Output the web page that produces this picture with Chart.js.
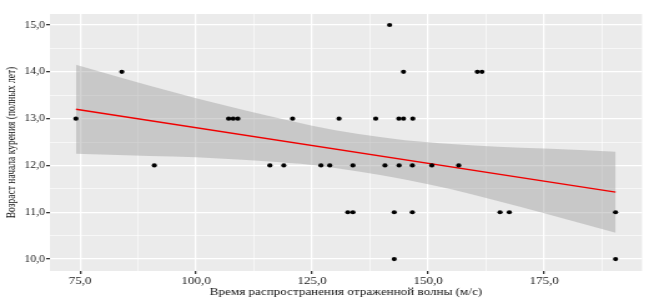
<!DOCTYPE html>
<html><head><meta charset="utf-8">
<script src="https://cdn.jsdelivr.net/npm/chart.js@4.4.1/dist/chart.umd.min.js"></script>
<style>html,body{margin:0;padding:0;background:#fff;overflow:hidden}</style>
</head><body>
<canvas id="c" width="520" height="304" style="display:block;width:649px;height:304px"></canvas>
<script>
// Observed points
const waveTime   = [74.1, 84, 91, 107, 108, 109, 115.9, 118.9, 120.8, 126.9, 128.8, 130.8, 132.7, 133.8, 133.8, 138.7, 140.7, 141.7, 142.7, 142.7, 143.7, 143.75, 144.7, 144.7, 146.6, 146.6, 146.7, 150.8, 156.6, 160.6, 161.6, 165.5, 167.5, 190.4, 190.4];
const smokingAge = [13, 14, 12, 13, 13, 13, 12, 12, 13, 12, 12, 13, 11, 11, 12, 13, 12, 15, 11, 10, 13, 12, 13, 14, 12, 11, 13, 12, 12, 14, 14, 11, 11, 11, 10];
// Fitted line (end points)
const fitX = [74.1, 190.4];
const fitY = [13.2, 11.43];
// Confidence band
const bandX     = [74.1, 85, 95, 105, 115, 125, 135, 145, 155, 165, 175, 190.4];
const bandUpper = [14.15, 13.84, 13.57, 13.31, 13.07, 12.85, 12.67, 12.54, 12.46, 12.40, 12.36, 12.29];
const bandLower = [12.25, 12.22, 12.19, 12.15, 12.09, 12.01, 11.87, 11.70, 11.49, 11.24, 10.98, 10.56];
// Axis ticks
const xMajorTicks = [75, 100, 125, 150, 175];
const xMinorTicks = [87.5, 112.5, 137.5, 162.5, 187.5];
const xTickLabels = ['75,0', '100,0', '125,0', '150,0', '175,0'];
const yMajorTicks = [10, 11, 12, 13, 14, 15];
const yMinorTicks = [10.5, 11.5, 12.5, 13.5, 14.5];
const yTickLabels = ['10,0', '11,0', '12,0', '13,0', '14,0', '15,0'];
const xTitle = 'Время распространения отраженной волны (м/с)';
const yTitle = 'Возраст начала курения (полных лет)';

const pts = (xs, ys) => xs.map((x, i) => ({x: x, y: ys[i]}));

const panelBg = {
  id: 'panelBg',
  beforeDraw(chart) {
    const {ctx, chartArea: a} = chart;
    ctx.save();
    ctx.fillStyle = '#EBEBEB';
    ctx.fillRect(a.left, a.top, a.right - a.left, a.bottom - a.top);
    ctx.restore();
  }
};

function axisOpts(major, minor, labels, min, max, title, fitFn, titleFont, titlePad, tickFont) {
  return {
    type: 'linear', min: min, max: max,
    afterBuildTicks: (axis) => { axis.ticks = major.concat(minor).sort((a, b) => a - b).map(v => ({value: v})); },
    afterFit: fitFn,
    border: {display: false},
    grid: {
      color: '#FFFFFF',
      lineWidth: (c) => (c.tick && major.includes(c.tick.value)) ? 1.3 : 0.6,
      tickColor: (c) => (c.tick && major.includes(c.tick.value)) ? '#333333' : 'rgba(0,0,0,0)',
      tickLength: 3,
      drawTicks: true
    },
    ticks: {
      autoSkip: false, maxRotation: 0, padding: 1,
      color: '#222222',
      font: {family: 'Liberation Serif', size: tickFont},
      callback: (v) => { const i = major.indexOf(v); return i >= 0 ? labels[i] : ''; }
    },
    title: {display: true, text: title, color: '#111111',
      font: {family: 'Liberation Serif', size: titleFont}, padding: titlePad}
  };
}

new Chart(document.getElementById('c'), {
  type: 'scatter',
  data: {
    datasets: [
      {data: pts(waveTime, smokingAge), pointRadius: 2.1, pointBackgroundColor: '#000', pointBorderWidth: 0, showLine: false},
      {data: pts(fitX, fitY), showLine: true, pointRadius: 0, borderColor: '#F00000', borderWidth: 1.4, fill: false},
      {data: pts(bandX, bandUpper), showLine: true, pointRadius: 0, borderWidth: 0, borderColor: 'rgba(0,0,0,0)',
        backgroundColor: 'rgba(153,153,153,0.42)', fill: '+1', cubicInterpolationMode: 'monotone'},
      {data: pts(bandX, bandLower), showLine: true, pointRadius: 0, borderWidth: 0, borderColor: 'rgba(0,0,0,0)',
        fill: false, cubicInterpolationMode: 'monotone'}
    ]
  },
  options: {
    responsive: false, animation: false, devicePixelRatio: 1,
    layout: {padding: {left: 0, right: 5.6, top: 14, bottom: 0}},
    plugins: {legend: {display: false}, tooltip: {enabled: false}},
    scales: {
      x: axisOpts(xMajorTicks, xMinorTicks, xTickLabels, 68.5, 196.1, xTitle,
        (s) => { s.height = 33; }, 10.5, {top: 0, bottom: 5}, 10.5),
      y: axisOpts(yMajorTicks, yMinorTicks, yTickLabels, 9.745, 15.235, yTitle,
        (s) => { s.width = 40; }, 9.5, {top: 4, bottom: 0}, 9.5)
    }
  },
  plugins: [panelBg]
});
</script>
</body></html>
